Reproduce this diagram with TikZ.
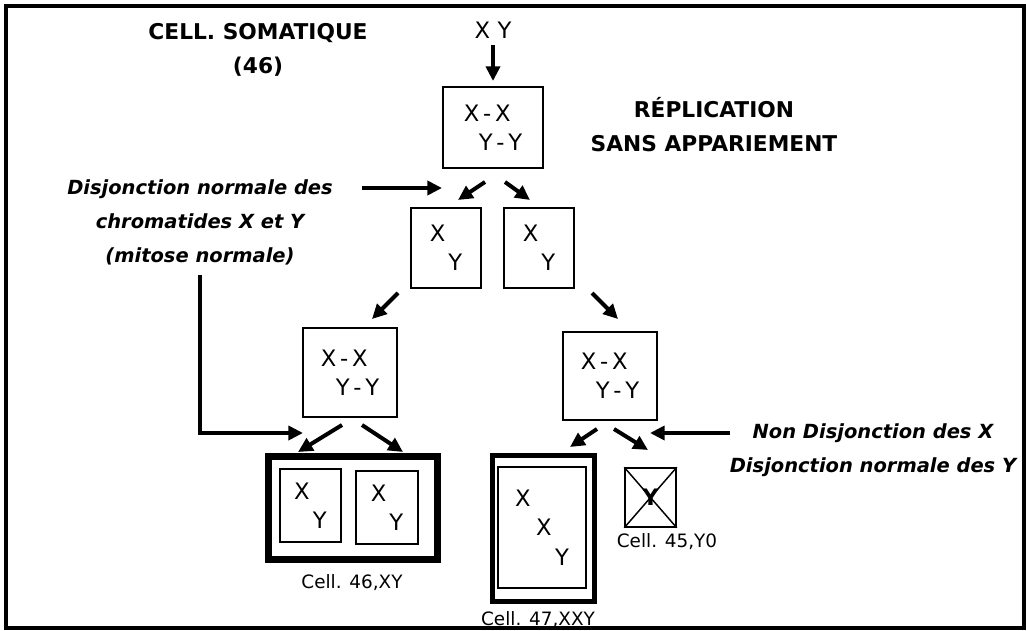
\documentclass[tikz,border=0pt]{standalone}
\usepackage{fontspec}
\setmainfont{DejaVu Sans}
\usetikzlibrary{arrows.meta}
\newcommand{\lettres}{\fontsize{17}{22}\selectfont}
\newcommand{\titres}{\fontsize{16.3}{25.5}\selectfont\bfseries}
\newcommand{\notes}{\fontsize{14.6}{25.5}\selectfont\bfseries\itshape}
\newcommand{\legendes}{\fontsize{13.8}{15}\selectfont}
\newcommand{\tiret}{\,-\,}

\begin{document}
\begin{tikzpicture}[x=0.75pt,y=0.75pt,yscale=-1,xscale=1,
	fleche/.style={line width=3pt,-{Triangle[length=11pt,width=10.5pt]}},
	cellule/.style 2 args={draw,line width=1.1pt,minimum width={#1*0.75pt},minimum height={#2*0.75pt},inner sep=0pt,align=left,font=\lettres},
	titre/.style={align=center,font=\titres},
	note/.style={align=center,font=\notes},
	legende/.style={inner sep=0.75pt,font=\legendes}]
	\useasboundingbox (0,0) rectangle (1027,631);
	\draw [line width=2.3pt] (6,6) rectangle (1024,628);
	\draw (258,50) node [titre] (soma) {CELL. SOMATIQUE\\(46)};
	\draw (493,30) node [font=\lettres,inner sep=1pt] (xy) {X\,\,Y};
	\draw (714,125) node [titre] (repl) {RÉPLICATION\\SANS APPARIEMENT};
	\draw (200,222) node [note] (disj) {Disjonction normale des\\chromatides X et Y\\(mitose normale)};
	\draw (873,450) node [note] (nondisj) {Non Disjonction des X\\Disjonction normale des Y};
	\draw (493,127.5) node [cellule={100}{81}] (b1) {X\tiret X\\\hspace{11.25pt}Y\tiret Y};
	\draw (446,248) node [cellule={70}{80}] (b2g) {X\\\hspace{14pt}Y};
	\draw (539,248) node [cellule={70}{80}] (b2d) {X\\\hspace{14pt}Y};
	\draw (350,372.5) node [cellule={94}{89}] (b3g) {X\tiret X\\\hspace{11.25pt}Y\tiret Y};
	\draw (610,376) node [cellule={94}{88}] (b3d) {X\tiret X\\\hspace{11.25pt}Y\tiret Y};
	\draw (353,508) node [cellule={169}{103},line width=5.25pt] (c46) {};
	\draw (310.5,505.5) node [cellule={61}{73}] (c46a) {X\\\hspace{14pt}Y};
	\draw (387,507.5) node [cellule={62}{73}] (c46b) {X\\\hspace{14pt}Y};
	\draw (543.5,528.5) node [cellule={102}{146},line width=4.1pt] (c47) {};
	\draw (542,527.5) node [cellule={88}{121}] (c47i) {X\\\hspace{15.75pt}X\\\hspace{30pt}Y};
	\draw (650.5,497.5) node [cellule={51}{59},font=\lettres\bfseries] (c45) {Y};
	\draw [line width=1.1pt] (c45.north west) -- (c45.south east) (c45.north east) -- (c45.south west);
	\draw (352,583) node [legende] (l46) {Cell. 46,XY};
	\draw (538,620) node [legende] (l47) {Cell. 47,XXY};
	\draw (667,542) node [legende] (l45) {Cell. 45,Y0};
	\coordinate (a1) at (493,45); \coordinate (a2) at (493,81);
	\coordinate (d1) at (362,188); \coordinate (d2) at (442,188);
	\coordinate (r1) at (485,182); \coordinate (r2) at (458,200);
	\coordinate (r3) at (505,182); \coordinate (r4) at (530,200);
	\coordinate (g1) at (398,293); \coordinate (g2) at (372,319);
	\coordinate (h1) at (592,293); \coordinate (h2) at (618,319);
	\coordinate (m1) at (342,425); \coordinate (m2) at (298,452);
	\coordinate (m3) at (362,425); \coordinate (m4) at (403,452);
	\coordinate (e1) at (200,275); \coordinate (e2) at (303,433);
	\coordinate (n1) at (597,429); \coordinate (n2) at (570,447);
	\coordinate (n3) at (614,429); \coordinate (n4) at (648,450);
	\coordinate (f1) at (730,433); \coordinate (f2) at (650,433);
	\draw [fleche] (a1) -- (a2);
	\draw [fleche] (d1) -- (d2);
	\draw [fleche] (r1) -- (r2);
	\draw [fleche] (r3) -- (r4);
	\draw [fleche] (g1) -- (g2);
	\draw [fleche] (h1) -- (h2);
	\draw [fleche] (m1) -- (m2);
	\draw [fleche] (m3) -- (m4);
	\draw [fleche] (e1) |- (e2);
	\draw [fleche] (n1) -- (n2);
	\draw [fleche] (n3) -- (n4);
	\draw [fleche] (f1) -- (f2);
\end{tikzpicture}
\end{document}
